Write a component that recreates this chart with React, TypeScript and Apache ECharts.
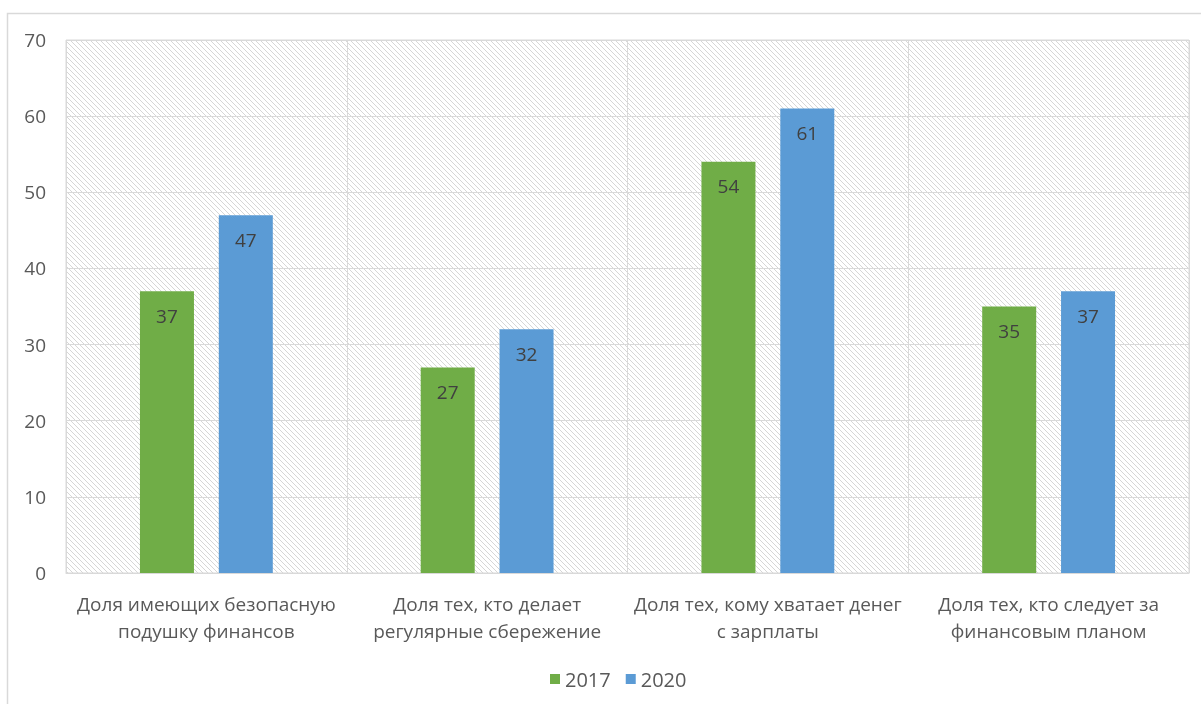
import React, { useEffect, useRef } from "react";
import * as echarts from "echarts";

const categories = [
  "Доля имеющих безопасную\nподушку финансов",
  "Доля тех, кто делает\nрегулярные сбережение",
  "Доля тех, кому хватает денег\nс зарплаты",
  "Доля тех, кто следует за\nфинансовым планом",
];
const values2017 = [37, 27, 54, 35];
const values2020 = [47, 32, 61, 37];
const yTicks = { min: 0, max: 70, interval: 10 };

function makeHatch(): HTMLCanvasElement {
  const size = 5;
  const c = document.createElement("canvas");
  c.width = size;
  c.height = size;
  const ctx = c.getContext("2d")!;
  ctx.fillStyle = "#ffffff";
  ctx.fillRect(0, 0, size, size);
  ctx.fillStyle = "#d6d6d6";
  for (let i = 0; i < size; i++) ctx.fillRect(i, i, 1, 1);
  return c;
}

export default function App() {
  const ref = useRef<HTMLDivElement>(null);
  useEffect(() => {
    if (!ref.current) return;
    const chart = echarts.init(ref.current, undefined, { renderer: "svg" });
    const hatch = makeHatch();
    const font = "'Open Sans', 'Noto Sans', sans-serif";
    const barLabel = {
      show: true,
      position: "insideTop",
      distance: 15,
      color: "#404040",
      fontSize: 19,
      fontFamily: font,
    };
    chart.setOption({
      animation: false,
      textStyle: { fontFamily: font },
      graphic: [
        {
          type: "rect",
          shape: { x: 7.5, y: 13.5, width: 1300, height: 800 },
          style: { fill: "none", stroke: "#d9d9d9", lineWidth: 1.5 },
          silent: true,
          z: -10,
        },
      ],
      grid: {
        left: 66,
        top: 40,
        right: 12,
        bottom: 131,
        show: true,
        backgroundColor: {
          image: hatch,
          repeat: "repeat",
          imageWidth: 5,
          imageHeight: 5,
        },
        borderColor: "#d9d9d9",
        borderWidth: 1,
      },
      legend: {
        data: ["2017", "2020"],
        top: 664,
        left: 545,
        icon: "rect",
        itemWidth: 10,
        itemHeight: 10,
        itemGap: 15,
        textStyle: { color: "#595959", fontSize: 20, fontFamily: font },
      },
      xAxis: {
        type: "category",
        data: categories,
        axisLine: { lineStyle: { color: "#d9d9d9" } },
        axisTick: { show: false },
        splitLine: { show: true, lineStyle: { color: "#d9d9d9" } },
        axisLabel: {
          color: "#595959",
          fontSize: 19,
          lineHeight: 27,
          margin: 17,
          interval: 0,
          fontFamily: font,
        },
      },
      yAxis: {
        type: "value",
        min: yTicks.min,
        max: yTicks.max,
        interval: yTicks.interval,
        axisLine: { show: false },
        axisTick: { show: false },
        splitLine: { lineStyle: { color: "#d9d9d9" } },
        axisLabel: { color: "#595959", fontSize: 19, margin: 20, fontFamily: font },
      },
      series: [
        {
          name: "2017",
          type: "bar",
          data: values2017,
          barWidth: 54,
          barGap: "46%",
          itemStyle: { color: "#70ad47" },
          label: barLabel,
        },
        {
          name: "2020",
          type: "bar",
          data: values2020,
          barWidth: 54,
          itemStyle: { color: "#5b9bd5" },
          label: barLabel,
        },
      ],
    });
    return () => chart.dispose();
  }, []);
  return (
    <div
      ref={ref}
      style={{ position: "fixed", left: 0, top: 0, width: 1201, height: 704 }}
    />
  );
}
